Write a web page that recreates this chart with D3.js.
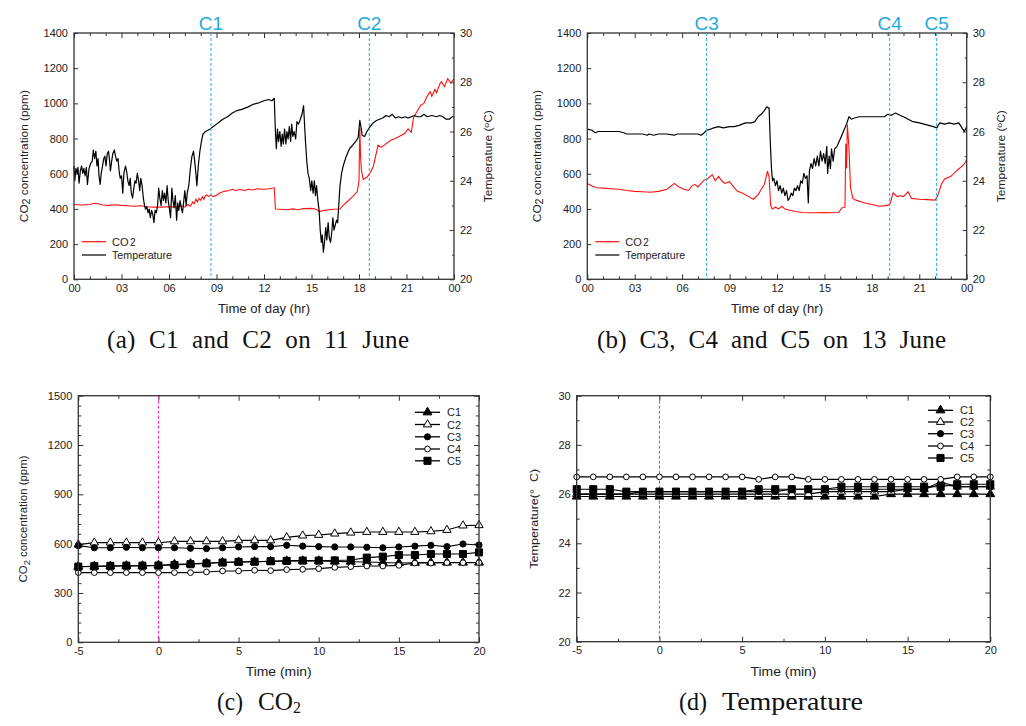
<!DOCTYPE html>
<html><head><meta charset="utf-8">
<script src="https://cdn.jsdelivr.net/npm/d3@7"></script>
<style>body{margin:0;background:#fff;} svg{display:block;}</style>
</head><body><svg id="c" width="1026" height="726"></svg>
<script>
// ---------- data ----------
const hourTickValues = [0,3,6,9,12,15,18,21,24];
const hourTickLabels = ["00","03","06","09","12","15","18","21","00"];
const hourMinorTicks = [1,2,4,5,7,8,10,11,13,14,16,17,19,20,22,23];
const co2TicksTop = [0,200,400,600,800,1000,1200,1400];
const tempTicksTop = [20,22,24,26,28,30];
const tempMinorTop = [21,23,25,27,29];

const eventsA = ["C1","C2"];
const eventTimesA = [8.65,18.65];
const eventsB = ["C3","C4","C5"];
const eventTimesB = [7.55,19.13,22.1];

// 11 June: [hour, value]
const tempA = [[0.00,24.6],[0.05,24.0],[0.12,24.5],[0.2,24.3],[0.25,24.55],[0.32,23.9],[0.4,24.4],[0.48,24.6],[0.55,24.3],[0.62,24.5],[0.7,24.2],[0.78,24.55],[0.85,23.85],[0.95,24.5],[1.05,24.7],[1.15,24.8],[1.22,25.25],[1.3,24.9],[1.38,25.2],[1.45,24.6],[1.52,24.9],[1.58,24.2],[1.65,23.85],[1.72,24.3],[1.8,24.6],[1.88,24.9],[1.95,25.0],[2.02,24.6],[2.1,25.1],[2.18,25.2],[2.25,24.8],[2.3,24.4],[2.38,24.8],[2.45,25.1],[2.55,25.25],[2.62,25.0],[2.7,24.8],[2.78,24.9],[2.85,24.4],[2.92,24.1],[3.0,24.2],[3.08,23.5],[3.15,24.3],[3.25,24.6],[3.32,24.4],[3.4,24.0],[3.48,23.8],[3.55,24.1],[3.62,23.5],[3.7,23.3],[3.78,23.7],[3.85,24.0],[3.92,23.9],[4.0,24.3],[4.08,24.0],[4.15,23.6],[4.22,24.1],[4.3,23.8],[4.38,23.3],[4.45,23.0],[4.52,22.85],[4.6,22.95],[4.68,22.7],[4.75,22.85],[4.82,22.5],[4.9,22.8],[4.97,22.65],[5.05,22.3],[5.12,22.8],[5.2,22.7],[5.28,23.0],[5.35,23.7],[5.42,23.3],[5.5,23.0],[5.58,23.6],[5.65,23.2],[5.72,23.5],[5.8,23.1],[5.88,23.8],[5.95,23.2],[6.02,22.9],[6.1,22.5],[6.18,23.7],[6.25,23.2],[6.32,22.9],[6.4,23.4],[6.48,22.4],[6.55,23.1],[6.62,22.8],[6.7,23.2],[6.78,22.9],[6.85,22.7],[6.92,23.1],[7.0,23.6],[7.08,23.0],[7.15,23.5],[7.25,23.8],[7.35,24.5],[7.45,25.0],[7.55,25.2],[7.62,24.8],[7.7,24.3],[7.76,23.8],[7.85,24.6],[7.95,25.2],[8.05,25.6],[8.15,25.9],[8.3,26.0],[8.45,26.05],[8.6,26.1],[8.8,26.2],[9.0,26.3],[9.2,26.4],[9.4,26.5],[9.7,26.6],[10.0,26.75],[10.3,26.85],[10.6,26.9],[11.0,27.0],[11.3,27.1],[11.6,27.15],[12.0,27.25],[12.3,27.3],[12.5,27.25],[12.65,27.35],[12.72,26.0],[12.78,25.3],[12.85,26.1],[12.92,25.6],[13.0,26.0],[13.08,25.4],[13.15,25.9],[13.22,25.5],[13.3,26.1],[13.38,25.5],[13.45,26.0],[13.52,25.7],[13.6,26.2],[13.68,25.6],[13.75,26.3],[13.82,25.8],[13.9,26.0],[14.0,25.7],[14.08,26.4],[14.18,26.3],[14.3,26.5],[14.4,26.7],[14.5,27.05],[14.56,26.3],[14.62,25.6],[14.7,24.8],[14.78,24.3],[14.86,24.1],[14.95,23.6],[15.02,24.0],[15.1,23.5],[15.18,24.0],[15.25,23.4],[15.32,23.8],[15.4,23.2],[15.48,22.8],[15.55,22.0],[15.62,21.5],[15.68,21.8],[15.75,21.1],[15.82,21.5],[15.9,22.1],[15.97,21.6],[16.05,22.3],[16.12,21.7],[16.2,21.5],[16.28,21.9],[16.35,22.5],[16.42,22.0],[16.5,22.2],[16.58,22.4],[16.65,22.3],[16.72,23.0],[16.8,23.8],[16.9,24.3],[17.0,24.6],[17.2,25.0],[17.4,25.3],[17.6,25.45],[17.8,25.6],[17.95,25.75],[18.05,26.45],[18.12,26.2],[18.2,25.85],[18.35,25.8],[18.5,26.0],[18.7,26.2],[18.9,26.35],[19.1,26.45],[19.3,26.5],[19.5,26.55],[19.7,26.65],[19.9,26.6],[20.1,26.7],[20.3,26.55],[20.5,26.6],[20.7,26.55],[20.9,26.6],[21.1,26.55],[21.3,26.6],[21.5,26.65],[21.7,26.6],[21.9,26.6],[22.1,26.7],[22.3,26.6],[22.6,26.65],[22.9,26.6],[23.1,26.65],[23.3,26.6],[23.5,26.5],[23.7,26.5],[23.9,26.6],[24.0,26.6]];
const co2A = [[0,425],[0.5,422],[1.0,425],[1.3,432],[1.6,428],[1.8,422],[2.2,420],[2.6,424],[3.0,420],[3.4,418],[3.8,415],[4.2,418],[4.6,412],[5.0,410],[5.5,410],[6.0,412],[6.5,410],[6.8,418],[7.0,410],[7.2,425],[7.35,415],[7.5,440],[7.6,430],[7.7,455],[7.8,440],[7.9,460],[8.0,450],[8.1,470],[8.2,455],[8.3,475],[8.4,480],[8.5,470],[8.65,480],[8.8,470],[9.0,478],[9.2,490],[9.5,500],[9.8,505],[10.0,512],[10.2,505],[10.5,510],[10.8,505],[11.0,512],[11.3,508],[11.6,515],[12.0,512],[12.3,515],[12.65,520],[12.72,400],[13.0,398],[13.5,395],[13.8,400],[14.1,395],[14.5,402],[15.0,403],[15.3,398],[15.5,385],[15.8,392],[16.1,395],[16.4,398],[16.8,400],[17.0,420],[17.3,445],[17.6,470],[17.9,500],[18.0,560],[18.05,860],[18.1,700],[18.15,620],[18.27,568],[18.5,580],[18.7,605],[18.9,640],[19.1,720],[19.2,763],[19.4,750],[19.7,770],[20.0,790],[20.3,800],[20.6,815],[20.9,830],[21.1,855],[21.3,835],[21.45,920],[21.7,960],[21.9,990],[22.1,1000],[22.3,1040],[22.5,1066],[22.6,1040],[22.8,1080],[22.9,1060],[23.1,1110],[23.2,1123],[23.4,1095],[23.6,1140],[23.8,1115],[24.0,1140]];

// 13 June: [hour, value]
const tempB = [[0,26.1],[0.3,26.05],[0.5,25.95],[0.7,26.0],[1.0,26.0],[1.5,26.0],[2.0,26.0],[2.3,25.95],[2.5,25.9],[3.0,25.9],[3.5,25.9],[3.8,25.85],[3.9,25.9],[4.2,25.85],[4.5,25.9],[5.0,25.9],[5.5,25.85],[5.7,25.9],[6.0,25.9],[6.5,25.9],[7.0,25.9],[7.2,25.85],[7.4,25.95],[7.55,26.05],[7.8,26.1],[8.0,26.15],[8.3,26.2],[8.6,26.15],[9.0,26.2],[9.3,26.2],[9.6,26.25],[10.0,26.35],[10.4,26.35],[10.6,26.4],[10.8,26.6],[11.0,26.7],[11.2,26.85],[11.35,27.0],[11.5,26.95],[11.58,25.5],[11.65,24.5],[11.72,24.0],[11.8,24.1],[11.9,23.8],[12.0,24.0],[12.1,23.6],[12.2,23.8],[12.3,23.5],[12.4,23.7],[12.5,23.4],[12.6,23.6],[12.7,23.2],[12.8,23.3],[12.9,23.5],[13.0,23.4],[13.1,23.7],[13.2,23.6],[13.3,23.8],[13.4,23.6],[13.5,24.0],[13.6,23.9],[13.7,24.3],[13.8,24.1],[13.9,24.2],[13.98,23.1],[14.05,24.4],[14.15,24.7],[14.25,24.5],[14.35,24.9],[14.45,24.6],[14.55,25.0],[14.65,24.6],[14.75,25.2],[14.85,24.8],[14.95,25.1],[15.05,24.7],[15.15,25.4],[15.2,24.3],[15.3,25.0],[15.38,24.5],[15.45,25.3],[15.55,24.8],[15.65,25.3],[15.8,25.4],[16.0,25.7],[16.2,26.0],[16.4,26.3],[16.55,26.6],[16.7,26.5],[16.9,26.55],[17.2,26.6],[17.6,26.6],[18.0,26.6],[18.4,26.6],[18.8,26.6],[19.0,26.7],[19.2,26.65],[19.5,26.75],[19.8,26.65],[20.0,26.6],[20.3,26.5],[20.6,26.4],[21.0,26.35],[21.3,26.3],[21.6,26.25],[21.9,26.2],[22.1,26.15],[22.3,26.35],[22.6,26.3],[22.9,26.35],[23.2,26.3],[23.5,26.35],[23.7,26.15],[23.85,26.0],[24.0,26.2]];
const co2B = [[0,545],[0.3,530],[0.6,520],[1.0,518],[1.5,515],[2.0,512],[2.5,505],[3.0,500],[3.5,498],[4.0,495],[4.5,500],[5.0,510],[5.3,530],[5.5,545],[5.8,525],[6.1,512],[6.4,505],[6.6,530],[6.8,540],[7.0,525],[7.2,545],[7.4,565],[7.6,570],[7.9,595],[8.1,560],[8.3,585],[8.5,560],[8.7,545],[9.0,555],[9.3,520],[9.5,500],[9.8,490],[10.2,470],[10.5,455],[10.8,480],[11.0,510],[11.2,540],[11.4,615],[11.5,580],[11.6,420],[11.7,400],[11.9,410],[12.1,400],[12.3,415],[12.5,400],[12.8,392],[13.2,385],[13.6,380],[14.0,378],[14.5,378],[15.0,380],[15.5,378],[15.9,380],[16.1,405],[16.3,410],[16.35,770],[16.4,630],[16.45,880],[16.55,750],[16.65,520],[16.8,460],[17.0,450],[17.5,435],[18.0,425],[18.5,415],[19.0,420],[19.15,430],[19.35,492],[19.6,470],[19.8,475],[20.0,470],[20.3,498],[20.5,460],[21.0,455],[21.5,453],[22.0,450],[22.15,470],[22.4,540],[22.6,570],[23.0,585],[23.4,620],[23.8,650],[24.0,680]];

// event windows (minutes)
const minutes = [-5,-4,-3,-2,-1,0,1,2,3,4,5,6,7,8,9,10,11,12,13,14,15,16,17,18,19,20];
const seriesNames = ["C1","C2","C3","C4","C5"];
const co2C1 = [460,462,463,465,465,468,474,478,482,485,488,490,492,495,495,495,492,490,488,485,482,484,485,485,485,485];
const co2C2 = [594,606,606,606,606,606,614,614,614,614,620,620,620,638,649,653,661,667,671,671,671,671,675,683,710,712];
const co2C3 = [588,575,575,578,575,575,575,572,570,575,580,582,582,590,585,582,580,580,578,575,580,585,590,582,598,592];
const co2C4 = [424,424,424,424,424,424,424,424,428,434,434,438,436,442,444,448,456,460,464,464,468,482,482,484,484,484];
const co2C5 = [460,463,465,466,466,467,470,475,480,485,489,490,493,495,497,497,498,501,515,521,531,531,537,537,537,547];
const tempC1 = [25.9,25.9,25.9,25.9,25.9,25.9,25.9,25.9,25.9,25.9,25.9,25.9,25.9,25.9,25.9,25.9,25.9,25.9,25.9,26.0,26.0,26.0,26.0,26.0,26.0,26.0];
const tempC2 = [26.0,26.0,26.0,26.0,26.0,26.0,26.0,26.0,26.0,26.0,26.0,26.0,26.0,26.0,26.0,26.1,26.1,26.1,26.1,26.1,26.2,26.2,26.5,26.3,26.3,26.3];
const tempC3 = [26.0,26.0,26.0,26.0,26.1,26.1,26.1,26.1,26.1,26.1,26.1,26.1,26.1,26.2,26.2,26.2,26.2,26.2,26.2,26.2,26.2,26.2,26.4,26.3,26.3,26.3];
const tempC4 = [26.7,26.7,26.7,26.7,26.7,26.7,26.7,26.7,26.7,26.7,26.7,26.6,26.7,26.7,26.6,26.6,26.6,26.6,26.6,26.6,26.6,26.6,26.6,26.7,26.7,26.7];
const tempC5 = [26.2,26.2,26.2,26.1,26.1,26.1,26.1,26.1,26.1,26.1,26.1,26.2,26.2,26.2,26.2,26.2,26.3,26.3,26.3,26.3,26.3,26.3,26.3,26.4,26.4,26.4];

const minTickValues = [-5,0,5,10,15,20];
const minMinorTicks = [-2.5,2.5,7.5,12.5,17.5];
const co2TicksBottom = [0,300,600,900,1200,1500];
const co2MinorBottom = [60,120,180,240,360,420,480,540,660,720,780,840,960,1020,1080,1140,1260,1320,1380,1440];
const tempTicksBottom = [20,22,24,26,28,30];
const tempMinorBottom = [21,23,25,27,29];

// ---------- drawing ----------
const FONT = "'Liberation Sans', Arial, sans-serif";
const SERIF = "'Liberation Serif', 'Times New Roman', serif";
const svg = d3.select("#c");
const AX = "#333";
const plain = d => String(d);

function addAxis(gen, transform) {
  const g = svg.append("g").attr("transform", transform).call(gen);
  g.select(".domain").remove();
  g.selectAll("line").attr("stroke", AX).attr("stroke-width", 1);
  g.attr("font-family", FONT).attr("font-size", 11);
  g.selectAll("text").attr("fill", "#222");
  return g;
}
function frame(x0,x1,y0,y1){
  svg.append("rect").attr("x",x0).attr("y",y0).attr("width",x1-x0).attr("height",y1-y0)
    .attr("fill","none").attr("stroke",AX).attr("stroke-width",1.3);
}
function rotText(x,y,len){
  return svg.append("text").attr("transform",`translate(${x},${y}) rotate(-90)`)
    .attr("text-anchor","middle").attr("font-family",FONT).attr("font-size",11).attr("fill","#222")
    .attr("textLength",len).attr("lengthAdjust","spacingAndGlyphs");
}

function topPanel(p) {
  const x = d3.scaleLinear().domain([0,24]).range([p.x0,p.x1]);
  const yL = d3.scaleLinear().domain([0,1400]).range([p.y1,p.y0]);
  const yR = d3.scaleLinear().domain([20,30]).range([p.y1,p.y0]);

  addAxis(d3.axisBottom(x).tickValues(hourMinorTicks).tickSize(-3).tickFormat(""), `translate(0,${p.y1})`);
  addAxis(d3.axisTop(x).tickValues(hourMinorTicks).tickSize(-3).tickFormat(""), `translate(0,${p.y0})`);
  addAxis(d3.axisBottom(x).tickValues(hourTickValues).tickSize(-5).tickPadding(5).tickFormat((d,i)=>hourTickLabels[i]), `translate(0,${p.y1})`);
  addAxis(d3.axisTop(x).tickValues(hourTickValues).tickSize(-5).tickFormat(""), `translate(0,${p.y0})`);
  addAxis(d3.axisLeft(yL).tickValues(co2TicksTop).tickSize(-4).tickPadding(6).tickFormat(plain), `translate(${p.x0},0)`);
  addAxis(d3.axisRight(yR).tickValues(tempTicksTop).tickSize(-4).tickPadding(6).tickFormat(plain), `translate(${p.x1},0)`);
  addAxis(d3.axisRight(yR).tickValues(tempMinorTop).tickSize(-2).tickFormat(""), `translate(${p.x1},0)`);

  svg.append("path").datum(p.co2).attr("fill","none").attr("stroke","#ff1010").attr("stroke-width",1.1)
    .attr("d", d3.line().x(d=>x(d[0])).y(d=>yL(d[1])));
  svg.append("path").datum(p.temp).attr("fill","none").attr("stroke","#000").attr("stroke-width",1.2)
    .attr("stroke-linejoin","round")
    .attr("d", d3.line().x(d=>x(d[0])).y(d=>yR(d[1])));

  frame(p.x0,p.x1,p.y0,p.y1);

  p.events.forEach((name,i)=>{
    const xx = x(p.eventTimes[i]);
    svg.append("line").attr("x1",xx).attr("x2",xx).attr("y1",p.y0).attr("y2",p.y1)
      .attr("stroke","#2aa9e0").attr("stroke-width",1).attr("stroke-dasharray","3,2");
    svg.append("text").attr("x",xx).attr("y",p.y0-3).attr("text-anchor","middle")
      .attr("font-family",FONT).attr("font-size",19).attr("fill","#1fa8e2").text(name);
  });

  const lx = p.x0 + 8, ly = 241.7;
  svg.append("line").attr("x1",lx).attr("x2",lx+24).attr("y1",ly).attr("y2",ly).attr("stroke","#ff1010").attr("stroke-width",1.2);
  svg.append("line").attr("x1",lx).attr("x2",lx+24).attr("y1",ly+13.3).attr("y2",ly+13.3).attr("stroke","#000").attr("stroke-width",1.2);
  const t1 = svg.append("text").attr("x",lx+30).attr("y",ly+4).attr("font-family",FONT).attr("font-size",11).attr("fill","#222");
  t1.append("tspan").text("CO");
  t1.append("tspan").attr("dx",1.5).attr("font-size",10).text("2");
  svg.append("text").attr("x",lx+30).attr("y",ly+17.3).attr("font-family",FONT).attr("font-size",11).attr("fill","#222")
    .attr("textLength",60).attr("lengthAdjust","spacingAndGlyphs").text("Temperature");

  svg.append("text").attr("x",(p.x0+p.x1)/2).attr("y",313).attr("text-anchor","middle")
    .attr("font-family",FONT).attr("font-size",12).attr("fill","#222")
    .attr("textLength",92).attr("lengthAdjust","spacingAndGlyphs").text("Time of day (hr)");
  const lt = rotText(p.x0-46, (p.y0+p.y1)/2, 132);
  lt.append("tspan").text("CO");
  lt.append("tspan").attr("dy",2).attr("font-size",10).text("2");
  lt.append("tspan").attr("dy",-2).text(" concentration (ppm)");
  const rt = rotText(p.x1+38, (p.y0+p.y1)/2, 92);
  rt.append("tspan").text("Temperature (");
  rt.append("tspan").attr("dy",-3).attr("font-size",8).text("o");
  rt.append("tspan").attr("dy",3).text("C)");

  svg.append("text").attr("x",p.capX).attr("y",348).attr("font-family",SERIF).attr("font-size",25).attr("fill","#111")
    .attr("xml:space","preserve").attr("textLength",p.capW).attr("lengthAdjust","spacing").text(p.caption);
}

topPanel({x0:74,x1:454,y0:33,y1:279.3,co2:co2A,temp:tempA,events:eventsA,eventTimes:eventTimesA,
  caption:"(a)  C1  and  C2  on  11  June",capX:107,capW:302});
topPanel({x0:587.3,x1:966.7,y0:33,y1:279.3,co2:co2B,temp:tempB,events:eventsB,eventTimes:eventTimesB,
  caption:"(b)  C3,  C4  and  C5  on  13  June",capX:597,capW:349});

const symbolTypes = [d3.symbolTriangle,d3.symbolTriangle,d3.symbolCircle,d3.symbolCircle,d3.symbolSquare];
const symbolFill = ["#000","#fff","#000","#fff","#000"];
const symbolSize = [34,30,30,26,50];

function bottomPanel(p) {
  const x = d3.scaleLinear().domain([-5,20]).range([p.x0,p.x1]);
  const y = d3.scaleLinear().domain(p.yDomain).range([p.y1,p.y0]);

  addAxis(d3.axisBottom(x).tickValues(minTickValues).tickSize(-5).tickPadding(5).tickFormat(plain), `translate(0,${p.y1})`);
  addAxis(d3.axisBottom(x).tickValues(minMinorTicks).tickSize(-3).tickFormat(""), `translate(0,${p.y1})`);
  addAxis(d3.axisTop(x).tickValues(minTickValues).tickSize(-5).tickFormat(""), `translate(0,${p.y0})`);
  addAxis(d3.axisTop(x).tickValues(minMinorTicks).tickSize(-3).tickFormat(""), `translate(0,${p.y0})`);
  addAxis(d3.axisLeft(y).tickValues(p.yTicks).tickSize(-5).tickPadding(6).tickFormat(plain), `translate(${p.x0},0)`);
  addAxis(d3.axisLeft(y).tickValues(p.yMinor).tickSize(-3).tickFormat(""), `translate(${p.x0},0)`);
  addAxis(d3.axisRight(y).tickValues(p.yTicks).tickSize(-5).tickFormat(""), `translate(${p.x1},0)`);
  addAxis(d3.axisRight(y).tickValues(p.yMinor).tickSize(-3).tickFormat(""), `translate(${p.x1},0)`);

  svg.append("line").attr("x1",x(0)).attr("x2",x(0)).attr("y1",p.y0).attr("y2",p.y1)
    .attr("stroke","#ee22cc").attr("stroke-width",1).attr("stroke-dasharray","3,2");

  p.series.forEach((vals,i)=>{
    const pts = minutes.map((m,j)=>[m,vals[j]]);
    svg.append("path").datum(pts).attr("fill","none").attr("stroke","#000").attr("stroke-width",1.1)
      .attr("d", d3.line().x(d=>x(d[0])).y(d=>y(d[1])));
    svg.append("g").selectAll("path").data(pts).join("path")
      .attr("transform",d=>`translate(${x(d[0])},${y(d[1])})`)
      .attr("d", d3.symbol(symbolTypes[i], symbolSize[i]))
      .attr("fill",symbolFill[i]).attr("stroke","#000").attr("stroke-width",1);
  });

  frame(p.x0,p.x1,p.y0,p.y1);

  seriesNames.forEach((n,i)=>{
    const ly = p.legY[i];
    svg.append("line").attr("x1",p.legX).attr("x2",p.legX+25).attr("y1",ly).attr("y2",ly).attr("stroke","#000").attr("stroke-width",1.3);
    svg.append("path").attr("transform",`translate(${p.legX+12.5},${ly})`)
      .attr("d", d3.symbol(symbolTypes[i], symbolSize[i])).attr("fill",symbolFill[i]).attr("stroke","#000");
    svg.append("text").attr("x",p.legX+32).attr("y",ly+4).attr("font-family",FONT).attr("font-size",11).attr("fill","#222").text(n);
  });

  svg.append("text").attr("x",(p.x0+p.x1)/2).attr("y",676).attr("text-anchor","middle")
    .attr("font-family",FONT).attr("font-size",12).attr("fill","#222")
    .attr("textLength",66).attr("lengthAdjust","spacingAndGlyphs").text("Time (min)");
  p.yTitle(rotText(p.titleX,(p.y0+p.y1)/2,p.titleLen));
  p.caption();
}

bottomPanel({x0:78.3,x1:479,y0:395.7,y1:642.3,yDomain:[0,1500],yTicks:co2TicksBottom,yMinor:co2MinorBottom,
  series:[co2C1,co2C2,co2C3,co2C4,co2C5],legX:415,legY:[412.3,424.5,436.8,449,460.8],
  titleX:27,titleLen:127,
  yTitle:t=>{t.append("tspan").text("CO");t.append("tspan").attr("dy",3).attr("font-size",9).text("2");t.append("tspan").attr("dy",-3).text(" concentration (ppm)");},
  caption:()=>{
    svg.append("text").attr("x",217).attr("y",710).attr("font-family",SERIF).attr("font-size",25).attr("fill","#111")
      .attr("textLength",26).attr("lengthAdjust","spacingAndGlyphs").text("(c)");
    svg.append("text").attr("x",258).attr("y",710).attr("font-family",SERIF).attr("font-size",25).attr("fill","#111")
      .attr("textLength",35).attr("lengthAdjust","spacingAndGlyphs").text("CO");
    svg.append("text").attr("x",293).attr("y",713).attr("font-family",SERIF).attr("font-size",16).attr("fill","#111").text("2");
  }});

bottomPanel({x0:576.7,x1:990.3,y0:395.7,y1:641.7,yDomain:[20,30],yTicks:tempTicksBottom,yMinor:tempMinorBottom,
  series:[tempC1,tempC2,tempC3,tempC4,tempC5],legX:928,legY:[410.3,422,433.7,446,458],
  titleX:538,titleLen:100,
  yTitle:t=>{t.attr("xml:space","preserve").text("Temperature(°  C)");},
  caption:()=>{
    svg.append("text").attr("x",679).attr("y",710).attr("font-family",SERIF).attr("font-size",25).attr("fill","#111")
      .attr("textLength",28).attr("lengthAdjust","spacingAndGlyphs").text("(d)");
    svg.append("text").attr("x",722).attr("y",710).attr("font-family",SERIF).attr("font-size",25).attr("fill","#111")
      .attr("textLength",141).attr("lengthAdjust","spacingAndGlyphs").text("Temperature");
  }});
</script>
</body></html>
